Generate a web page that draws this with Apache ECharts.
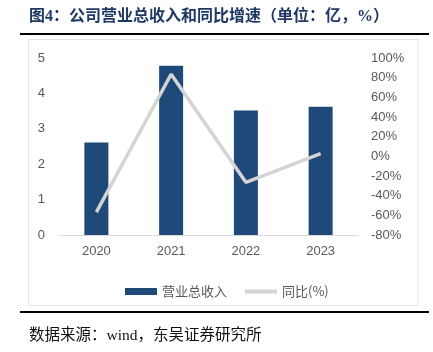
<!DOCTYPE html>
<html>
<head>
<meta charset="utf-8">
<script src="https://cdn.jsdelivr.net/npm/echarts@6/dist/echarts.min.js"></script>
<style>
  html, body { margin: 0; padding: 0; background: #fff; }
  #main { width: 433px; height: 352px; }
</style>
</head>
<body>
<div id="main"></div>
<script>
// 数据
var years = ['2020', '2021', '2022', '2023'];
var revenue = [2.61, 4.78, 3.52, 3.62];   // 营业总收入（亿）
var yoy = [-56.8, 83.5, -26.4, 2.8];      // 同比(%)

var chart = echarts.init(document.getElementById('main'), null, { renderer: 'canvas' });

var labelFont = "'Liberation Sans', Arial, 'Noto Sans CJK SC'";

var option = {
  backgroundColor: '#fff',
  animation: false,
  graphic: [
    {
      type: 'text',
      left: 29, top: 9,
      style: {
        text: '图4：公司营业总收入和同比增速（单位：亿，%）',
        font: "bold 16px 'Liberation Serif', 'Noto Sans CJK SC'",
        fill: '#1F3864'
      }
    },
    // 标题下横线
    { type: 'rect', shape: { x: 20, y: 33, width: 409, height: 2 }, style: { fill: '#000' } },
    // 图表框
    {
      type: 'rect',
      shape: { x: 28.5, y: 39.5, width: 389.5, height: 266 },
      style: { fill: 'none', stroke: '#e3e3e3', lineWidth: 1 }
    },
    // 底部横线
    { type: 'rect', shape: { x: 20, y: 311, width: 409, height: 2 }, style: { fill: '#000' } },
    {
      type: 'text',
      left: 29, top: 328,
      style: {
        text: '数据来源：wind，东吴证券研究所',
        font: "15.5px 'Liberation Serif', 'Noto Sans CJK SC'",
        fill: '#111'
      }
    }
  ],
  grid: { left: 59, right: 75, top: 58, bottom: 117 },
  legend: {
    left: 120,
    top: 280,
    itemWidth: 32,
    itemHeight: 7,
    itemGap: 18,
    textStyle: { color: '#595959', fontSize: 13, fontFamily: "'Noto Sans CJK SC'" },
    data: [
      { name: '营业总收入', icon: 'rect' },
      { name: '同比(%)', icon: 'path://M0,0 L32,0 L32,4 L0,4 Z' }
    ]
  },
  xAxis: {
    type: 'category',
    data: years,
    axisLine: { lineStyle: { color: '#d9d9d9', width: 1 } },
    axisTick: { show: false },
    axisLabel: { color: '#595959', fontSize: 13, fontFamily: labelFont, margin: 10 }
  },
  yAxis: [
    {
      type: 'value',
      min: 0, max: 5, interval: 1,
      axisLine: { show: false },
      axisTick: { show: false },
      splitLine: { show: false },
      axisLabel: { color: '#595959', fontSize: 13, fontFamily: labelFont, margin: 14 }
    },
    {
      type: 'value',
      min: -80, max: 100, interval: 20,
      axisLine: { show: false },
      axisTick: { show: false },
      splitLine: { show: false },
      axisLabel: { color: '#595959', fontSize: 13, fontFamily: labelFont, margin: 13, formatter: '{value}%' }
    }
  ],
  series: [
    {
      name: '营业总收入',
      type: 'bar',
      data: revenue,
      barWidth: 24,
      itemStyle: { color: '#1F4979' }
    },
    {
      name: '同比(%)',
      type: 'line',
      yAxisIndex: 1,
      data: yoy,
      symbol: 'none',
      lineStyle: { color: '#d4d4d4', width: 3.5 },
      itemStyle: { color: '#d4d4d4' }
    }
  ]
};

chart.setOption(option);
</script>
</body>
</html>
